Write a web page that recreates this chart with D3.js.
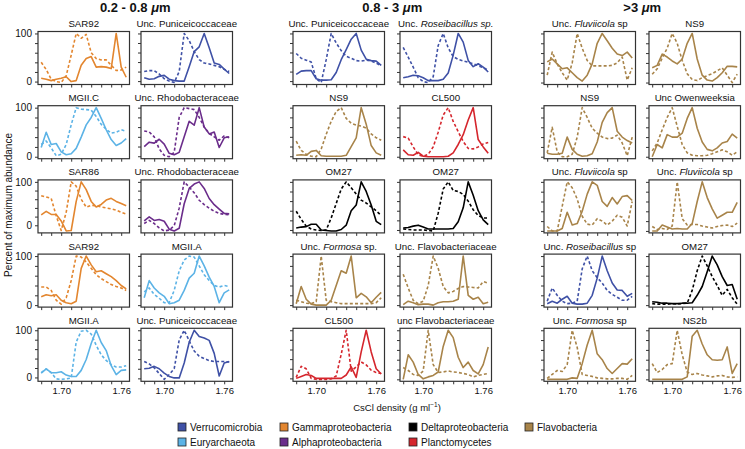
<!DOCTYPE html>
<html><head><meta charset="utf-8">
<script src="https://cdn.jsdelivr.net/npm/d3@7"></script>
<style>body{margin:0;background:#fff}svg{display:block;font-family:"Liberation Sans",Arial,Helvetica,sans-serif}</style>
</head><body><svg id="c" width="745" height="449"></svg>
<script>
// ---------- data ----------
const densities = [1.680,1.685,1.690,1.695,1.700,1.705,1.710,1.715,1.720,1.725,1.730,1.735,1.740,1.745,1.750,1.755,1.760,1.765];
const sizeFractions = ["0.2 - 0.8 ", "0.8 - 3 ", ">3 "];
const phyla = ["Verrucomicrobia","Euryarchaeota","Gammaproteobacteria","Alphaproteobacteria","Deltaproteobacteria","Planctomycetes","Flavobacteria"];
const phylumColors = ["#3f51a6","#5cb3e6","#e3862f","#6b2d8b","#000000","#d5262d","#a8844a"];
const xTicks = [1.68,1.69,1.70,1.71,1.72,1.73,1.74,1.75,1.76];
const xTickLabels = ["1.70","1.76"];
const yTicks = [0,20,40,60,80,100];
const yTickLabels = [0,100];

// panels ordered by size fraction, then row, then column
const panelTitles = [
 "SAR92","Unc. Puniceicoccaceae","MGII.C","Unc. Rhodobacteraceae","SAR86","Unc. Rhodobacteraceae","SAR92","MGII.A","MGII.A","Unc. Puniceicoccaceae",
 "Unc. Puniceicoccaceae","Unc. *Roseibacillus sp.*","NS9","CL500","OM27","OM27","Unc. *Formosa* sp.","Unc. Flavobacteriaceae","CL500","unc Flavobacteriaceae",
 "Unc. *Fluviicola* sp","NS9","NS9","Unc Owenweeksia","Unc. *Fluviicola* sp","Unc. *Fluviicola* sp","Unc. *Roseibacillus* sp","OM27","Unc. *Formosa* sp","NS2b"
];
const panelPhylum = [
 "Gammaproteobacteria","Verrucomicrobia","Euryarchaeota","Alphaproteobacteria","Gammaproteobacteria","Alphaproteobacteria","Gammaproteobacteria","Euryarchaeota","Euryarchaeota","Verrucomicrobia",
 "Verrucomicrobia","Verrucomicrobia","Flavobacteria","Planctomycetes","Deltaproteobacteria","Deltaproteobacteria","Flavobacteria","Flavobacteria","Planctomycetes","Flavobacteria",
 "Flavobacteria","Flavobacteria","Flavobacteria","Flavobacteria","Flavobacteria","Flavobacteria","Verrucomicrobia","Deltaproteobacteria","Flavobacteria","Flavobacteria"
];
// solid line: one size fraction; dashed line: comparison
const solidValues = [
 [7,5,2,5,7,10,0,2,34,48,52,30,31,30,27,100,30,9],
 [7,4,5,10,12,4,1,0,0,30,62,72,100,70,38,35,25,16],
 [19,50,25,27,10,4,6,17,40,65,80,100,78,55,35,23,28,37],
 [20,29,27,35,25,6,3,8,40,72,64,100,60,46,50,18,38,40],
 [24,32,25,25,10,-13,-12,55,100,82,55,42,48,58,62,55,50,45],
 [11,20,12,14,10,-8,-12,-6,50,85,95,100,85,62,48,38,28,27],
 [17,21,19,21,10,5,3,8,75,100,82,68,70,64,58,50,40,33],
 [15,50,35,25,18,3,5,10,30,55,65,100,80,57,38,5,25,31],
 [9,18,10,10,12,5,2,2,15,38,72,100,74,57,25,6,15,16],
 [20,21,25,20,11,4,1,1,32,75,100,87,84,79,52,5,32,35],
 [14,21,22,22,5,2,2,3,18,45,66,88,100,65,46,43,42,33],
 [8,10,13,12,8,2,2,2,5,18,55,100,82,44,31,37,30,20],
 [2,3,2,10,12,1,0,0,0,0,2,20,38,100,66,22,7,2],
 [14,4,3,9,1,0,0,0,0,1,8,25,45,75,100,35,20,7],
 [4,6,7,12,12,0,-1,-2,-2,1,10,40,52,100,80,52,18,11],
 [4,5,8,10,6,2,2,2,2,2,3,17,46,100,72,40,21,11],
 [3,38,12,2,0,0,0,10,40,70,65,100,15,24,17,5,16,26],
 [1,8,5,1,2,2,0,5,7,7,8,12,100,20,12,16,3,6],
 [0,4,8,6,0,0,0,0,0,0,7,24,2,55,100,55,20,9],
 [0,50,35,10,1,5,8,15,67,100,85,45,24,35,18,11,30,66],
 [42,48,38,28,30,20,10,3,15,38,80,100,85,70,58,55,62,50],
 [30,35,58,52,44,38,48,80,100,48,15,5,3,10,20,33,33,32],
 [7,5,5,7,40,15,5,1,2,6,30,70,90,100,52,40,33,28],
 [0,25,18,45,40,40,48,78,100,58,30,15,12,18,28,31,46,38],
 [0,0,0,5,38,12,15,40,75,100,93,60,50,68,55,70,72,62],
 [0,0,12,8,4,5,4,4,15,60,100,68,45,26,32,38,38,58],
 [3,8,4,12,18,4,2,2,4,20,55,100,70,45,31,30,18,24],
 [7,6,4,4,3,3,4,4,5,20,38,68,100,82,58,40,42,12],
 [0,0,0,0,0,3,2,32,70,100,52,40,22,12,22,32,31,42],
 [0,0,0,0,0,0,0,5,88,100,72,50,40,39,40,66,12,32]
];
const dashedValues = [
 [40,25,5,0,-2,12,55,100,90,98,60,48,45,45,34,23,24,30],
 [20,22,22,15,5,0,-3,20,100,85,62,45,38,36,33,30,25,20],
 [25,32,18,2,5,25,65,100,97,96,95,82,66,56,48,50,55,52],
 [52,50,40,15,2,-1,8,80,100,98,96,80,60,47,40,33,42,38],
 [68,65,62,22,-12,30,100,90,60,42,46,45,42,40,38,35,30,26],
 [5,12,5,-5,-12,-10,0,40,100,88,75,58,48,40,33,28,26,25],
 [37,37,30,10,2,15,50,100,98,88,75,62,54,48,42,38,35,30],
 [27,35,22,14,5,5,30,70,92,100,98,80,62,50,40,37,40,38],
 [10,18,10,-3,-4,-3,-1,75,98,100,92,68,48,36,27,22,22,25],
 [35,30,22,10,-2,8,20,80,100,78,57,46,41,37,35,35,35,34],
 [58,48,44,40,5,-3,45,100,80,64,52,48,43,42,44,42,38,32],
 [71,51,30,8,0,-2,10,75,100,70,52,46,43,40,37,33,29,24],
 [31,12,4,0,-1,15,45,72,92,100,78,68,64,62,58,46,38,33],
 [41,38,20,4,1,5,20,50,85,100,72,51,31,17,16,20,26,29],
 [39,22,8,2,0,-1,0,25,55,85,100,88,75,62,56,48,40,30],
 [2,1,0,0,0,-1,-2,35,85,100,82,80,74,60,42,30,25,25],
 [10,7,4,3,7,100,10,7,5,3,3,3,3,3,3,3,5,15],
 [63,35,10,3,8,40,100,75,38,25,28,34,38,37,36,35,48,45],
 [2,25,20,0,-2,-2,-2,-1,5,50,100,15,24,34,28,17,12,10],
 [24,18,10,8,17,100,30,14,15,17,15,14,12,10,5,8,10,12],
 [15,62,38,20,5,40,100,70,45,34,34,34,34,35,40,52,5,30],
 [17,28,50,70,100,80,45,18,6,4,10,14,18,24,30,15,0,17],
 [8,60,10,0,0,5,40,100,80,58,48,40,37,38,44,28,2,40],
 [12,28,55,80,100,62,25,8,3,2,2,3,6,10,14,10,3,10],
 [9,0,0,50,100,88,65,30,14,12,25,20,12,20,32,28,10,60],
 [9,3,5,3,10,100,25,12,13,13,10,8,6,9,11,12,9,16],
 [8,35,20,8,3,4,8,74,100,70,56,45,30,22,16,10,10,18],
 [3,2,2,2,3,2,3,4,30,70,100,80,58,40,20,32,15,2],
 [2,10,18,16,30,100,65,10,8,6,3,2,1,1,2,2,0,8],
 [32,14,20,30,32,100,50,15,10,12,9,7,5,7,8,5,4,5]
];
// legend layout order (column-wise)
const legendOrder = ["Verrucomicrobia","Euryarchaeota","Gammaproteobacteria","Alphaproteobacteria","Deltaproteobacteria","Planctomycetes","Flavobacteria"];

// ---------- drawing ----------
const svg = d3.select("#c");
const color = d3.scaleOrdinal().domain(phyla).range(phylumColors);
const colX = [38,141,293,400,544,649];
const rowY = [31.5,105.7,179.9,254.1,328.3];
const panelW = 91.5, panelH = 53;
const xDomain = [1.6768, 1.7683];
const defs = svg.append("defs");

panelTitles.forEach((title, k) => {
  const g = Math.floor(k / 10), r = Math.floor((k % 10) / 2), c = k % 2;
  const x0 = colX[g * 2 + c], y0 = rowY[r];
  const x = d3.scaleLinear().domain(xDomain).range([x0, x0 + panelW]);
  const all = solidValues[k].concat(dashedValues[k]);
  const lo = Math.min(0, d3.min(all)), hi = Math.max(100, d3.max(all));
  const pad = (hi - lo) * 0.04;
  const y = d3.scaleLinear().domain([lo - pad, hi + pad]).range([y0 + panelH, y0]);
  const pg = svg.append("g");

  defs.append("clipPath").attr("id", "clip" + k).append("rect")
    .attr("x", x0).attr("y", y0).attr("width", panelW).attr("height", panelH);

  const line = d3.line().x((d, i) => x(densities[i])).y(d => y(d));
  const col = color(panelPhylum[k]);
  const lg = pg.append("g").attr("clip-path", "url(#clip" + k + ")");
  lg.append("path").datum(dashedValues[k]).attr("d", line).attr("fill", "none")
    .attr("stroke", col).attr("stroke-width", 1.6).attr("stroke-dasharray", "3,2.2").attr("stroke-linejoin", "round");
  lg.append("path").datum(solidValues[k]).attr("d", line).attr("fill", "none")
    .attr("stroke", col).attr("stroke-width", 1.6).attr("stroke-linejoin", "round");

  // axes
  const showY = (g === 0 && c === 0);
  const ya = pg.append("g").attr("transform", `translate(${x0},0)`)
    .call(d3.axisLeft(y).tickValues(yTicks).tickSize(3).tickPadding(3)
      .tickFormat(d => showY && yTickLabels.includes(d) ? String(d) : ""));
  ya.select(".domain").remove();
  ya.selectAll("line").attr("stroke", "#333");
  ya.selectAll("text").attr("font-size", 10).attr("fill", "#111").attr("font-family", "Liberation Sans, Arial, sans-serif");

  const showX = (r === 4);
  const xa = pg.append("g").attr("transform", `translate(0,${y0 + panelH})`)
    .call(d3.axisBottom(x).tickValues(xTicks).tickSize(3).tickPadding(3)
      .tickFormat(d => showX && xTickLabels.includes(d.toFixed(2)) ? d.toFixed(2) : ""));
  xa.select(".domain").remove();
  xa.selectAll("line").attr("stroke", "#333");
  xa.selectAll("text").attr("font-size", 9.5).attr("fill", "#111").attr("font-family", "Liberation Sans, Arial, sans-serif");

  pg.append("rect").attr("x", x0).attr("y", y0).attr("width", panelW).attr("height", panelH)
    .attr("fill", "none").attr("stroke", "#333").attr("stroke-width", 1.2);

  // title with italic parts
  const t = pg.append("text").attr("x", x0 + panelW / 2).attr("y", y0 - 4.5)
    .attr("text-anchor", "middle").attr("font-size", 9.7).attr("fill", "#111");
  title.split("*").forEach((s, i) => {
    if (s.length) t.append("tspan").text(s).attr("font-style", i % 2 ? "italic" : "normal");
  });
});

// size fraction headers
sizeFractions.forEach((s, g) => {
  const cx = (colX[g * 2] + colX[g * 2 + 1] + panelW) / 2;
  const t = svg.append("text").attr("x", cx).attr("y", 12).attr("text-anchor", "middle")
    .attr("font-size", 13).attr("font-weight", "bold").attr("fill", "#111");
  t.append("tspan").text(s);
  t.append("tspan").text("\u03bc").attr("font-style", "italic");
  t.append("tspan").text("m");
});

// y-axis title
svg.append("text").attr("transform", "translate(12,205) rotate(-90)").attr("text-anchor", "middle")
  .attr("font-size", 10).attr("fill", "#111").text("Percent of maximum abundance");

// x-axis title
const xt = svg.append("text").attr("x", 397).attr("y", 411).attr("text-anchor", "middle")
  .attr("font-size", 9.5).attr("fill", "#111");
xt.append("tspan").text("CsCl density (g ml");
xt.append("tspan").text("\u22121").attr("font-size", 6.5).attr("dy", -4);
xt.append("tspan").text(")").attr("dy", 4);

// legend
const legX = [178, 280, 409, 525], legY = [427, 442];
legendOrder.forEach((p, i) => {
  const cx = legX[Math.floor(i / 2)], cy = legY[i % 2];
  const lg = svg.append("g");
  lg.append("rect").attr("x", cx).attr("y", cy - 4).attr("width", 8).attr("height", 8)
    .attr("fill", color(p)).attr("stroke", "#222").attr("stroke-width", 0.8);
  lg.append("text").attr("x", cx + 12).attr("y", cy + 3.5).attr("font-size", 10).attr("fill", "#111").text(p);
});
</script>
</body></html>
